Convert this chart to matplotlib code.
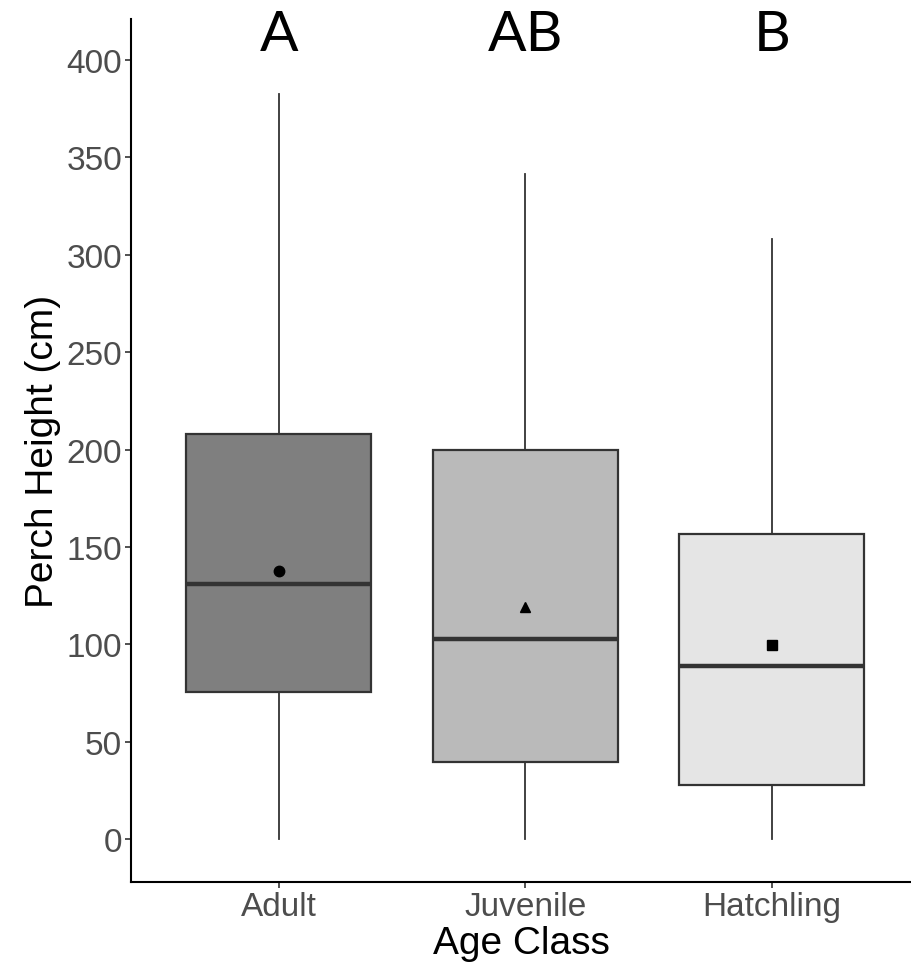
import numpy as np
import matplotlib
matplotlib.use("Agg")
import matplotlib.pyplot as plt

# data
categories = ["Adult", "Juvenile", "Hatchling"]
whisker_low = [0, 0, 0]
q1 = [75.3, 39.4, 27.7]
median = [130.9, 102.7, 89.0]
q3 = [208.2, 199.9, 156.6]
whisker_high = [382.5, 341.5, 308.0]
means = [137.5, 119.1, 99.6]
letters = ["A", "AB", "B"]
fills = ["#7f7f7f", "#bababa", "#e5e5e5"]
mean_markers = ["o", "^", "s"]

plt.rcParams['font.family'] = ['Liberation Sans', 'DejaVu Sans']

fig = plt.figure(figsize=(9.11, 9.78), dpi=100)
ax = fig.add_axes([131 / 911, 95 / 978, 1 - 131 / 911, (883 - 20) / 978])

stats = []
for i, name in enumerate(categories):
    stats.append(dict(label=name, whislo=whisker_low[i], q1=q1[i], med=median[i],
                      q3=q3[i], whishi=whisker_high[i], fliers=[]))

pos = np.arange(1, len(categories) + 1)
bp = ax.bxp(stats, positions=pos, widths=0.75, showcaps=False, showfliers=False,
            patch_artist=True,
            boxprops=dict(edgecolor="#333333", linewidth=1.6),
            whiskerprops=dict(color="#333333", linewidth=1.3),
            medianprops=dict(color="#333333", linewidth=3.2, solid_capstyle="butt"))
for patch, c in zip(bp["boxes"], fills):
    patch.set_facecolor(c)

for x, m, mk in zip(pos, means, mean_markers):
    ax.plot(x, m, marker=mk, color="black", markersize=7.5, linestyle="none", zorder=5)

for x, lab in zip(pos, letters):
    ax.text(x, 413, lab, ha="center", va="center", fontsize=41, family=["Lato", "DejaVu Sans"])

ax.set_xlim(0.4, 0.4 + (911 - 131) / 246.5)
ax.set_ylim(-22, 421)
ax.set_yticks(np.arange(0, 401, 50))
ax.set_xticks(pos)
ax.set_xticklabels(categories)
ax.tick_params(axis="both", colors="#333333", labelcolor="#4d4d4d", labelsize=24,
               length=4.5, width=1.2, pad=2)
ax.spines["top"].set_visible(False)
ax.spines["right"].set_visible(False)
for s in ["left", "bottom"]:
    ax.spines[s].set_linewidth(1.5)
    ax.spines[s].set_color("black")
ax.set_xlabel("Age Class", fontsize=28, labelpad=2)
ax.set_ylabel("Perch Height (cm)", fontsize=28, labelpad=4)

fig.savefig("out.png", dpi=100)
